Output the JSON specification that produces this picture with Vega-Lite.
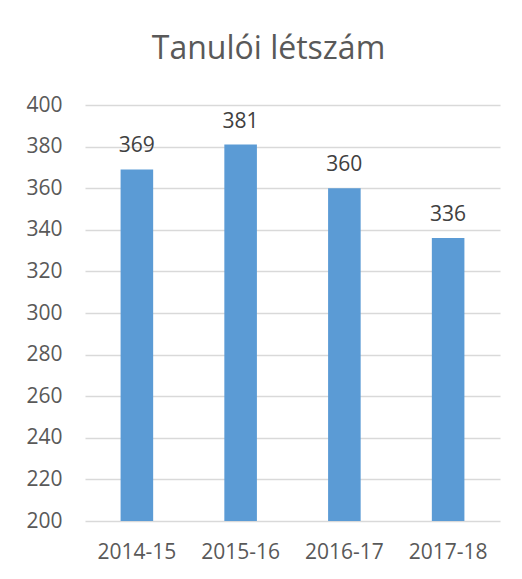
{
  "$schema": "https://vega.github.io/schema/vega-lite/v6.json",
  "width": 415,
  "height": 416,
  "autosize": {"type": "none"},
  "padding": {"left": 85, "top": 105, "right": 22, "bottom": 58},
  "background": "white",
  "title": {
    "text": "Tanulói létszám",
    "font": "Open Sans",
    "fontSize": 32,
    "fontWeight": "normal",
    "color": "#595959",
    "anchor": "middle",
    "dx": -24,
    "baseline": "alphabetic",
    "offset": 3
  },
  "data": {
    "values": [
      {"year": "2014-15", "count": 369},
      {"year": "2015-16", "count": 381},
      {"year": "2016-17", "count": 360},
      {"year": "2017-18", "count": 336}
    ]
  },
  "config": {
    "view": {"stroke": null},
    "font": "Open Sans"
  },
  "encoding": {
    "x": {
      "field": "year",
      "type": "nominal",
      "sort": null,
      "scale": {"paddingInner": 0.686, "paddingOuter": 0.343},
      "axis": {
        "title": null,
        "labelAngle": 0,
        "labelFont": "Open Sans",
        "labelFontSize": 21,
        "labelColor": "#595959",
        "ticks": false,
        "domain": false,
        "labelPadding": 20
      }
    },
    "y": {
      "field": "count",
      "type": "quantitative",
      "scale": {"domain": [200, 400], "nice": false, "zero": false},
      "axis": {
        "title": null,
        "values": [200, 220, 240, 260, 280, 300, 320, 340, 360, 380, 400],
        "labelFont": "Open Sans",
        "labelFontSize": 21,
        "labelColor": "#595959",
        "ticks": false,
        "domain": false,
        "labelPadding": 23,
        "gridColor": "#D9D9D9",
        "gridWidth": 1.3
      }
    }
  },
  "layer": [
    {
      "mark": {"type": "bar", "color": "#5B9BD5", "clip": true}
    },
    {
      "mark": {
        "type": "text",
        "font": "Open Sans",
        "fontSize": 21,
        "color": "#404040",
        "baseline": "alphabetic",
        "dy": -17
      },
      "encoding": {"text": {"field": "count", "type": "quantitative"}}
    }
  ]
}
